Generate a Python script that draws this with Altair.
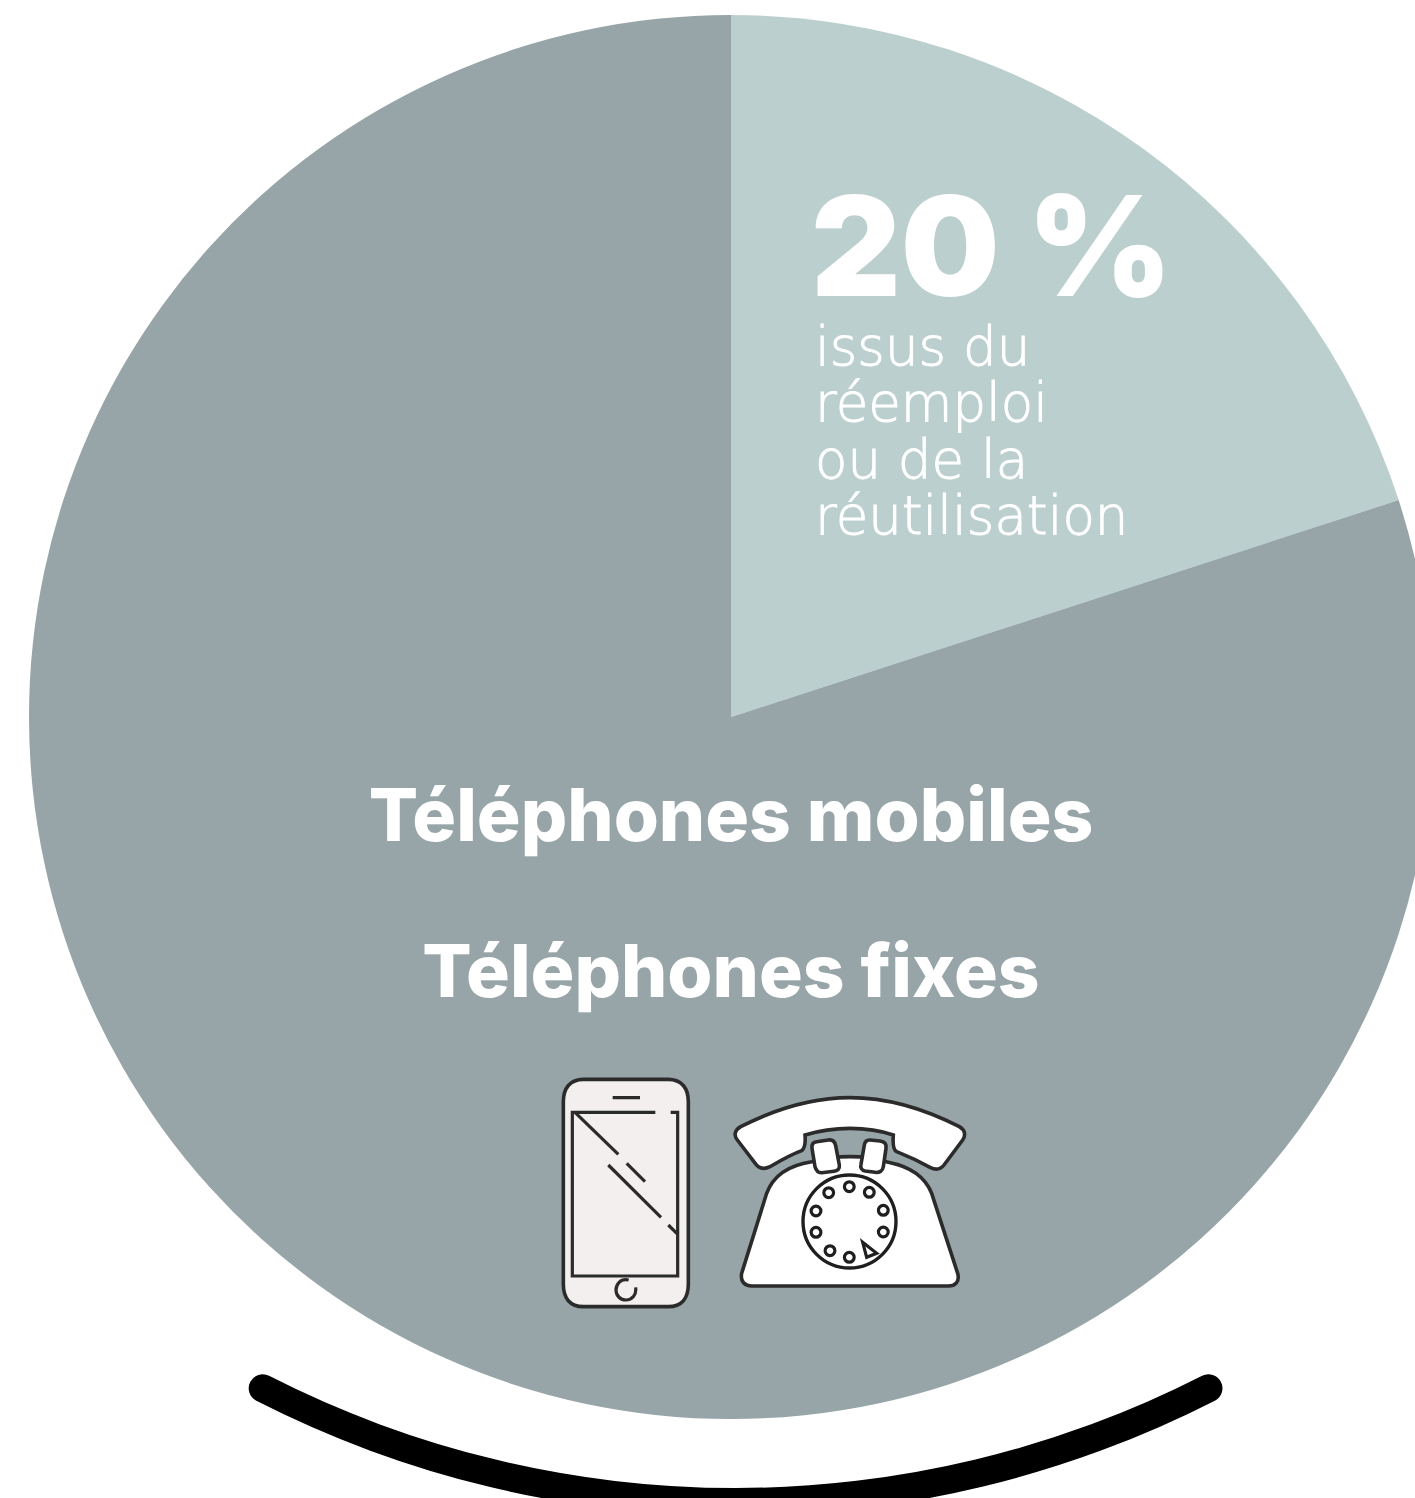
import altair as alt
import pandas as pd

W, H = 1415, 1498

# Pie shares
shares = [20, 80]
share_names = ["réemploi", "neuf"]
share_colors = ["#bbcfce", "#97a5a9"]

# Text blocks
big_label = ["20 %"]
detail_lines = ["issus du", "réemploi", "ou de la", "réutilisation"]
detail_baselines = [365, 421, 478, 534]
product_lines = ["Téléphones mobiles", "Téléphones fixes"]
product_baselines = [841, 997]

# Curved base under the pie, angles in radians
base_start = [2.656]
base_end = [3.627]

INK = "#2b2b2b"
ICON_SCALE = (2 / 3) ** 2  # symbol paths are drawn at one third of their units

# Mobile phone outlines (units are thirds of a pixel)
phone_body = ("M 130 58 L 385 58 C 425 58 445 85 445 125 L 445 672 C 445 715 425 740 385 740 "
              "L 130 740 C 90 740 70 715 70 672 L 70 125 C 70 85 90 58 130 58 Z")
phone_lines = ("M 346 157 L 97 157 L 97 648 L 413 648 L 413 157 L 392 157 "
               "M 105 157 L 235 283 M 205 315 L 363 472 M 260 310 L 315 365 M 385 495 L 411 521 "
               "M 218 113 L 300 113 "
               "M 266 660 C 240 654 228 675 228 690 C 228 708 242 720 258 720 C 276 720 290 705 287 682")

# Rotary telephone outlines (same units)
tel_body = ("M 140 325 C 160 270 210 240 275 230 C 300 222 330 215 390 215 C 440 215 480 222 505 232 "
            "C 570 245 615 275 635 325 L 713 565 C 720 590 705 603 685 603 L 95 603 "
            "C 75 603 60 590 65 565 Z")
tel_handset = ("M 62 125 C 180 65 290 38 390 38 C 490 38 600 65 718 125 C 735 135 738 150 728 165 "
               "L 672 240 C 660 255 645 255 630 247 C 590 225 560 212 530 200 C 520 195 518 175 520 150 "
               "C 480 136 430 130 390 130 C 340 130 300 136 255 150 C 257 175 255 190 245 197 "
               "C 210 210 185 225 150 245 C 130 255 118 250 108 238 L 52 165 C 40 150 45 135 62 125 Z")
tel_cradle_left = ("M 290 170 L 325 165 C 340 163 345 172 347 182 L 358 240 C 360 252 352 258 342 259 "
                   "L 305 263 C 292 264 288 255 285 245 L 276 190 C 274 178 280 171 290 170 Z")
tel_cradle_right = ("M 450 165 L 480 168 C 495 170 500 178 498 190 L 490 245 C 488 258 478 264 465 262 "
                    "L 435 258 C 425 256 420 248 423 238 L 433 180 C 435 170 440 164 450 165 Z")
tel_stop = "M 428 472 L 470 505 L 440 517 Z"

dial_hole_x = [849.3, 869.3, 883.3, 883.3, 849.3, 830, 816, 816, 828.7]
dial_hole_y = [1186.7, 1192.3, 1210.3, 1232, 1257.3, 1250.7, 1232.3, 1211, 1192.7]

x_scale = alt.Scale(domain=[0, W], range=[0, W])
y_scale = alt.Scale(domain=[0, H], range=[0, H])

pie = (
    alt.Chart(pd.DataFrame({"name": share_names, "share": shares, "rank": [0, 1]}))
    .mark_arc(radius=702)
    .encode(
        theta=alt.Theta("share:Q", stack=True, scale=alt.Scale(domain=[0, 100], range=[0, 6.28318530718])),
        order=alt.Order("rank:Q"),
        color=alt.Color("name:N", scale=alt.Scale(domain=share_names, range=share_colors), legend=None),
        x=alt.value(731),
        y=alt.value(717),
    )
)

base_curve = (
    alt.Chart(pd.DataFrame({"a": base_start, "b": base_end}))
    .mark_arc(radius=1026, radius2=1054, cornerRadius=14, color="#000000")
    .encode(
        theta=alt.Theta("a:Q", scale=None),
        theta2=alt.Theta2("b:Q"),
        x=alt.value(735.5),
        y=alt.value(462),
    )
)

big = (
    alt.Chart(pd.DataFrame({"t": big_label}))
    .mark_text(font="Inter", fontWeight=900, fontSize=139, color="white", align="left", baseline="alphabetic")
    .encode(text="t:N", x=alt.value(811), y=alt.value(296))
)

# A hairline stroke brings the extra-light face up to a regular weight
detail = (
    alt.Chart(pd.DataFrame({"t": detail_lines, "y": detail_baselines}))
    .mark_text(font="DejaVu Sans", fontWeight=200, fontSize=53, color="white", stroke="white", strokeWidth=0.9,
               align="left", baseline="alphabetic")
    .encode(text="t:N", x=alt.value(815), y=alt.Y("y:Q", scale=y_scale, axis=None))
)

products = (
    alt.Chart(pd.DataFrame({"t": product_lines, "y": product_baselines}))
    .mark_text(font="Inter", fontWeight=800, fontSize=73, color="white", align="center", baseline="alphabetic")
    .encode(text="t:N", x=alt.value(731), y=alt.Y("y:Q", scale=y_scale, axis=None))
)


def icon(path, ox, oy, fill=None, stroke_width=3.6, stroke=INK):
    kw = dict(shape=path, size=ICON_SCALE, stroke=stroke, strokeWidth=stroke_width, opacity=1)
    if fill:
        kw.update(filled=True, fill=fill)
    else:
        kw.update(filled=False, fill="transparent")
    return (
        alt.Chart(pd.DataFrame({"k": [0]}))
        .mark_point(**kw)
        .encode(x=alt.value(ox), y=alt.value(oy))
    )


phone = icon(phone_body, 540, 1060, fill="#f2efee") + icon(phone_lines, 540, 1060, stroke_width=3.2)

telephone = (
    icon(tel_handset, 720, 1085, fill="white")
    + icon(tel_body, 720, 1085, fill="white")
    + icon(tel_cradle_left, 720, 1085, fill="white")
    + icon(tel_cradle_right, 720, 1085, fill="white")
)

dial = (
    alt.Chart(pd.DataFrame({"k": [0]}))
    .mark_point(shape="circle", size=8650, filled=True, fill="white", stroke="#1f1f1f", strokeWidth=3.4, opacity=1)
    .encode(x=alt.value(849.5), y=alt.value(1221.5))
)
holes = (
    alt.Chart(pd.DataFrame({"x": dial_hole_x, "y": dial_hole_y}))
    .mark_point(shape="circle", size=95, filled=True, fill="white", stroke="#1f1f1f", strokeWidth=3.2, opacity=1)
    .encode(x=alt.X("x:Q", scale=x_scale, axis=None), y=alt.Y("y:Q", scale=y_scale, axis=None))
)
stop = icon(tel_stop, 720, 1085, fill="white", stroke_width=3.2, stroke="#1f1f1f")

chart = (
    alt.layer(pie, base_curve, big, detail, products, phone, telephone, dial, holes, stop)
    .properties(width=W, height=H, padding=0, background="white", autosize=alt.AutoSizeParams(type="none"))
    .configure_view(strokeWidth=0)
)

chart.save("out.html", embed_options={"renderer": "svg", "actions": False})
